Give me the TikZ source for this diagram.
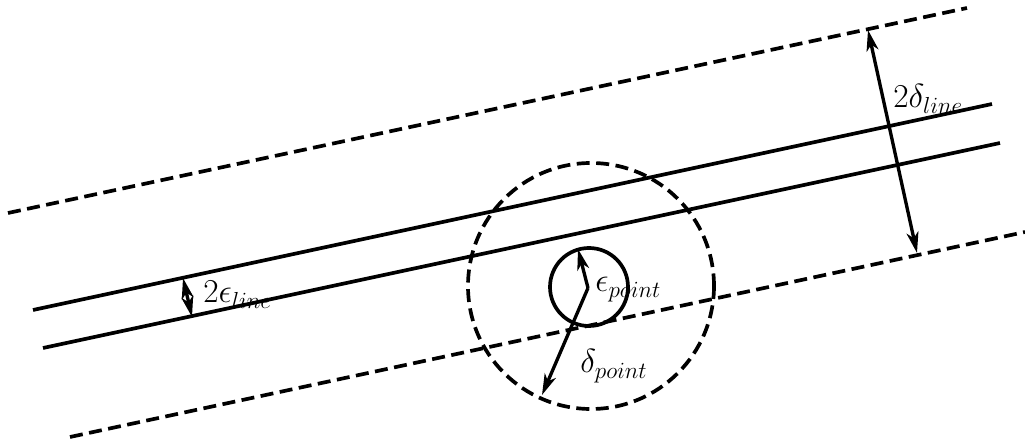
\documentclass[tikz,border=0pt]{standalone}
\usetikzlibrary{arrows.meta}
\begin{document}
\begin{tikzpicture}[x=0.02cm,y=-0.02cm,
  bound/.style={line width=2.1pt, dash pattern=on 0.26cm off 0.13cm},
  solidline/.style={line width=2.1pt},
  dim/.style={line width=1.9pt, {Stealth[length=0.42cm,width=0.24cm,inset=0.12cm]}-{Stealth[length=0.42cm,width=0.24cm,inset=0.12cm]}},
  rad/.style={line width=1.9pt, -{Stealth[length=0.42cm,width=0.24cm,inset=0.12cm]}},
  lbl/.style={inner sep=0pt, anchor=base west, font=\LARGE, scale=1.1}]
\useasboundingbox (0,0) rectangle (1025,445);
% coordinates
\coordinate (dTL) at (8,213);   \coordinate (dTR) at (967,8);
\coordinate (s1L) at (33,310);  \coordinate (s1R) at (992,104);
\coordinate (s2L) at (43,348);  \coordinate (s2R) at (1000,143);
\coordinate (dBL) at (70,437);  \coordinate (dBR) at (1025,232);
\coordinate (eA) at (183,278);  \coordinate (eB) at (192,317);
\coordinate (dA) at (868,30);   \coordinate (dB) at (917,253);
\coordinate (bigc) at (591,286);
\coordinate (smc) at (589,287);
\coordinate (ctr) at (588,288);
\coordinate (etip) at (578,249);
\coordinate (dtip) at (542,395);
% lines
\draw[bound] (dTL) -- (dTR);
\draw[solidline] (s1L) -- (s1R);
\draw[solidline] (s2L) -- (s2R);
\draw[bound] (dBL) -- (dBR);
% circles
\draw[bound] (bigc) circle[radius=123];
\draw[solidline] (smc) circle[radius=39];
% dimension arrows
\draw[dim] (eA) -- (eB);
\draw[dim] (dA) -- (dB);
\draw[rad] (ctr) -- (etip);
\draw[rad] (ctr) -- (dtip);
% labels
\node[lbl] (l1) at (203,303) {$2\epsilon_{line}$};
\node[lbl] (l2) at (893,108) {$2\delta_{line}$};
\node[lbl] (l3) at (595,292) {$\epsilon_{point}$};
\node[lbl] (l4) at (580,373) {$\delta_{point}$};
\end{tikzpicture}
\end{document}
